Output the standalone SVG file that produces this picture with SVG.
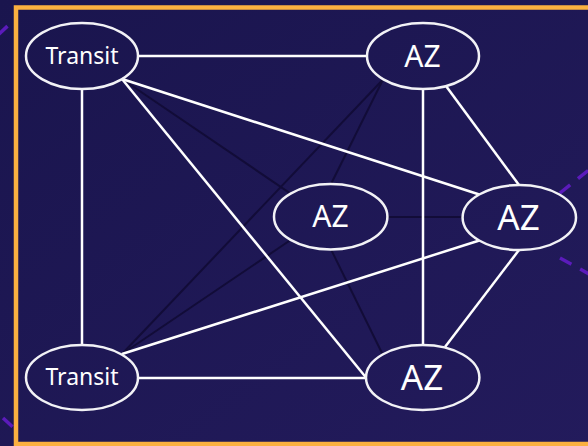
<svg xmlns="http://www.w3.org/2000/svg" width="588" height="446" viewBox="0 0 588 446">
  <defs>
    <linearGradient id="bg" x1="0" y1="0" x2="1" y2="1">
      <stop offset="0" stop-color="#1a154e"/>
      <stop offset="1" stop-color="#231b5c"/>
    </linearGradient>
    <style>
      .node ellipse { fill: none; stroke: #f2f2f6; stroke-width: 2.5; }
      .node text { fill: #ffffff; font-family: "Noto Sans", "Open Sans", sans-serif; text-anchor: middle; }
      .w { stroke: #ffffff; stroke-width: 2.5; fill: none; }
      .d { stroke: #120c38; stroke-width: 2; fill: none; }
      .dash { stroke: #5b1bbb; stroke-width: 3.5; stroke-dasharray: 13 10; fill: none; }
    </style>
  </defs>
  <rect x="0" y="0" width="588" height="446" fill="url(#bg)"/>
  <g id="outside-dashes">
    <line class="dash" x1="-2" y1="35" x2="14" y2="20"/>
    <line class="dash" x1="3" y1="418" x2="16" y2="430"/>
  </g>
  <rect x="16" y="7.5" width="600" height="436.5" fill="url(#bg)" stroke="#fbb040" stroke-width="4.5"/>
  <g id="right-dashes">
    <line class="dash" x1="560" y1="193" x2="600" y2="161"/>
    <line class="dash" x1="560" y1="258" x2="600" y2="280"/>
  </g>
  <g id="connectors">
    <line class="d" x1="122" y1="79" x2="290.6" y2="193.6"/>
    <line class="d" x1="122" y1="354" x2="383" y2="79.5"/>
    <line class="d" x1="122" y1="354" x2="290.6" y2="240"/>
    <line class="d" x1="383" y1="79.5" x2="331" y2="184"/>
    <line class="d" x1="387.4" y1="217" x2="462.6" y2="217"/>
    <line class="d" x1="331" y1="249.4" x2="382.7" y2="354.5"/>
    <line class="w" x1="138" y1="56" x2="367" y2="56"/>
    <line class="w" x1="82" y1="89" x2="82" y2="345"/>
    <line class="w" x1="138" y1="378" x2="366" y2="378"/>
    <line class="w" x1="423" y1="89" x2="423" y2="345"/>
    <line class="w" x1="446" y1="86" x2="519" y2="185"/>
    <line class="w" x1="519" y1="250" x2="445" y2="347"/>
    <line class="w" x1="122" y1="79" x2="479.3" y2="194.5"/>
    <line class="w" x1="122" y1="79" x2="366" y2="377.5"/>
    <line class="w" x1="122" y1="354" x2="479.3" y2="240.5"/>
  </g>
  <g id="transit-top" class="node">
    <ellipse cx="82" cy="56" rx="56" ry="33"/>
    <text x="82" y="63.5" font-size="23">Transit</text>
  </g>
  <g id="transit-bottom" class="node">
    <ellipse cx="82" cy="377.5" rx="56" ry="32.5"/>
    <text x="82" y="384.5" font-size="23">Transit</text>
  </g>
  <g id="az-top" class="node">
    <ellipse cx="423" cy="56" rx="56" ry="33"/>
    <text x="422.5" y="66.5" font-size="30">AZ</text>
  </g>
  <g id="az-middle" class="node">
    <ellipse cx="330.7" cy="216.7" rx="56.7" ry="32.7"/>
    <text x="330.5" y="227" font-size="30">AZ</text>
  </g>
  <g id="az-right" class="node">
    <ellipse cx="519.3" cy="217.5" rx="56.7" ry="32.5"/>
    <text x="518.5" y="230" font-size="35">AZ</text>
  </g>
  <g id="az-bottom" class="node">
    <ellipse cx="422.7" cy="377.5" rx="56.7" ry="32.5"/>
    <text x="422" y="390" font-size="35">AZ</text>
  </g>
</svg>
